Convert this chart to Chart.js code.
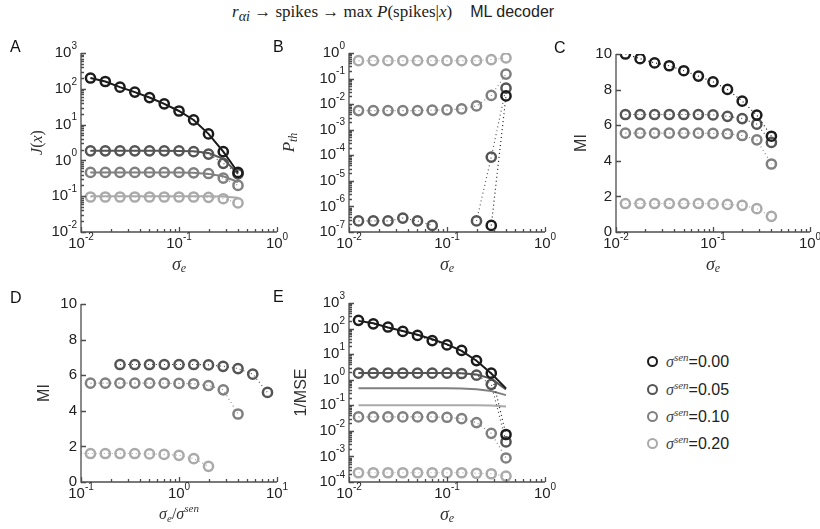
<!DOCTYPE html>
<html>
<head>
<meta charset="utf-8">
<script src="https://cdn.jsdelivr.net/npm/chart.js@4.4.1/dist/chart.umd.min.js"></script>
<style>
  body { margin: 0; background: #fff; width: 820px; height: 529px; position: relative; overflow: hidden;
         font-family: "Liberation Sans", Arial, sans-serif; color: #222; }
  canvas { position: absolute; }
  #title { position: absolute; top: 2px; left: 232px; white-space: nowrap; }
  #title .m { font-family: "Liberation Serif", serif; font-size: 17px; }
  #title .s { font-size: 16px; margin-left: 18px; }
  .leg { position: absolute; left: 647px; height: 20px; line-height: 20px; white-space: nowrap; font-size: 16px; }
  .leg .dot { display: inline-block; width: 7px; height: 7px; border-radius: 50%; border: 2.4px solid; vertical-align: middle; margin-right: 8px; margin-top: -3px; }
  .leg i { font-family: "Liberation Serif", serif; font-size: 16px; color: #444; }
  .leg sup { font-family: "Liberation Serif", serif; font-style: italic; font-size: 11px; color: #444; }
</style>
</head>
<body>
<div id="title"><span class="m"><i>r</i><sub><i>αi</i></sub> → spikes → max <i>P</i>(spikes|<i>x</i>)</span><span class="s">ML decoder</span></div>
<div id="legend"></div>

<script>
// ==================== DATA ====================
const sigmaE = [0.0125, 0.0177, 0.025, 0.0354, 0.05, 0.0707, 0.1, 0.141, 0.2, 0.283, 0.4];
const sigmaSen = [0, 0.05, 0.10, 0.20];
const senLabels = ['0.00', '0.05', '0.10', '0.20'];
const colors = ['#1c1c1c', '#555555', '#808080', '#aaaaaa'];

// A: J(x), markers
const jBlack = [200, 160, 111, 81, 57, 38, 24, 13.5, 5.5, 1.75, 0.46];
const jDark  = [1.85, 1.85, 1.85, 1.85, 1.85, 1.85, 1.85, 1.75, 1.5, 0.83, 0.42];
const jGray  = [0.46, 0.46, 0.46, 0.46, 0.46, 0.46, 0.46, 0.45, 0.43, 0.32, 0.2];
const jLight = [0.095, 0.095, 0.095, 0.095, 0.095, 0.095, 0.095, 0.095, 0.093, 0.085, 0.065];

// theory curves (solid lines in A and E)
const thBlack = [200, 160, 111, 81, 57, 38, 24, 13.5, 5.5, 1.75, 0.46];
const thDark  = [1.85, 1.85, 1.85, 1.85, 1.85, 1.85, 1.84, 1.8, 1.6, 1.1, 0.42];
const thGray  = [0.46, 0.46, 0.46, 0.46, 0.46, 0.46, 0.46, 0.45, 0.42, 0.36, 0.25];
const thLight = [0.1, 0.1, 0.1, 0.1, 0.1, 0.1, 0.1, 0.1, 0.1, 0.098, 0.09];

// B: P_th
const pBlack = [null, null, null, null, null, null, null, null, null, 1.8e-7, 0.021];
const pDark  = [2.7e-7, 2.7e-7, 2.7e-7, 3.5e-7, 2.7e-7, 1.8e-7, null, null, 2.7e-7, 8.5e-5, 0.042];
const pGray  = [0.0056, 0.0056, 0.0056, 0.0056, 0.0056, 0.0058, 0.006, 0.0065, 0.0085, 0.022, 0.15];
const pLight = [0.5, 0.5, 0.5, 0.5, 0.5, 0.5, 0.5, 0.5, 0.5, 0.55, 0.64];

// C / D: MI
const mBlack = [10.0, 9.74, 9.5, 9.34, 9.06, 8.76, 8.44, 8.01, 7.35, 6.57, 5.38];
const mDark  = [6.6, 6.6, 6.6, 6.6, 6.6, 6.6, 6.58, 6.5, 6.37, 6.06, 5.03];
const mGray  = [5.55, 5.55, 5.55, 5.55, 5.55, 5.55, 5.54, 5.52, 5.42, 5.18, 3.82];
const mLight = [1.6, 1.6, 1.6, 1.6, 1.6, 1.6, 1.58, 1.55, 1.5, 1.31, 0.88];

// E: 1/MSE
const eBlack = [210, 154, 115, 77, 54, 34, 23, 14, 5.6, 1.8, 0.0072];
const eDark  = [1.8, 1.8, 1.8, 1.8, 1.8, 1.8, 1.8, 1.75, 1.5, 0.66, 0.0037];
const eGray  = [0.035, 0.035, 0.035, 0.035, 0.035, 0.035, 0.034, 0.03, 0.021, 0.008, 0.00087];
const eLight = [2.3e-4, 2.3e-4, 2.3e-4, 2.3e-4, 2.3e-4, 2.3e-4, 2.3e-4, 2.3e-4, 2.2e-4, 2.1e-4, 1.7e-4];

// ==================== STYLE ====================
const AXIS = '#4d4d4d';
const TXT = '#222';
const SANS = '"Liberation Sans", Arial, sans-serif';
const SERIF = '"Liberation Serif", "Times New Roman", serif';
const Y_W = 80, X_H = 45, PAD_T = 15, PAD_R = 25;

// ==================== DATASET HELPERS ====================
function markerSet(xs, ys, color) {
    return {
        data: xs.map((x, i) => ({ x, y: ys[i] })),
        borderColor: color, borderWidth: 1.2, borderDash: [1, 3],
        pointRadius: 4.6, pointBorderWidth: 2.5, pointBorderColor: color,
        pointBackgroundColor: 'rgba(0,0,0,0)', tension: 0, order: 0
    };
}
function theorySet(xs, ys, color) {
    return {
        data: xs.map((x, i) => ({ x, y: ys[i] })),
        borderColor: color, borderWidth: 2, pointRadius: 0, tension: 0, order: 1
    };
}
const ratioX = k => sigmaE.map(s => s / sigmaSen[k]);

// ==================== TEXT HELPERS ====================
function richWidth(ctx, parts) {
    return parts.reduce((w, p) => { ctx.font = p.font; return w + ctx.measureText(p.t).width; }, 0);
}
function drawRich(ctx, parts, x, y) {
    // x is centre
    let cx = x - richWidth(ctx, parts) / 2;
    parts.forEach(p => {
        ctx.font = p.font;
        ctx.fillText(p.t, cx, y + (p.dy || 0));
        cx += ctx.measureText(p.t).width;
    });
}
function drawPow(ctx, e, x, y, align) {
    const base = '15px ' + SANS, small = '10px ' + SANS;
    ctx.font = base; const wb = ctx.measureText('10').width;
    ctx.font = small; const we = ctx.measureText(String(e)).width;
    const left = align === 'right' ? x - wb - we : x - (wb + we) / 2;
    ctx.font = base; ctx.fillText('10', left, y);
    ctx.font = small; ctx.fillText(String(e), left + wb, y - 7);
}
function tickList(scale, linTicks) {
    if (scale.type !== 'logarithmic') return linTicks.map(v => ({ v, major: true }));
    const out = [];
    for (let e = Math.floor(Math.log10(scale.min)); e <= Math.ceil(Math.log10(scale.max)); e++) {
        for (let m = 1; m <= 9; m++) {
            const v = m * Math.pow(10, e);
            if (v >= scale.min * 0.999 && v <= scale.max * 1.001) out.push({ v, major: m === 1, e });
        }
    }
    return out;
}

// ==================== AXES PLUGIN ====================
const matlabAxes = {
    id: 'matlabAxes',
    afterDraw(chart) {
        const o = chart.options.plugins.matlabAxes;
        const { ctx, chartArea: a } = chart;
        const xs = chart.scales.x, ys = chart.scales.y;
        ctx.save();
        ctx.strokeStyle = AXIS; ctx.lineWidth = 1.3;
        ctx.beginPath();
        ctx.moveTo(a.left, a.top); ctx.lineTo(a.left, a.bottom); ctx.lineTo(a.right, a.bottom);
        const xt = tickList(xs, []), yt = tickList(ys, o.yLin || []);
        xt.forEach(t => {
            const px = Math.round(xs.getPixelForValue(t.v)) + 0.5;
            ctx.moveTo(px, a.bottom); ctx.lineTo(px, a.bottom - (t.major ? 5 : 3));
        });
        yt.forEach(t => {
            const py = Math.round(ys.getPixelForValue(t.v)) + 0.5;
            ctx.moveTo(a.left, py); ctx.lineTo(a.left + (t.major ? 5 : 3), py);
        });
        ctx.stroke();

        ctx.fillStyle = TXT; ctx.textBaseline = 'middle'; ctx.textAlign = 'left';
        xt.filter(t => t.major).forEach(t => drawPow(ctx, t.e, xs.getPixelForValue(t.v), a.bottom + 12, 'center'));
        yt.filter(t => t.major).forEach(t => {
            const py = ys.getPixelForValue(t.v);
            if (ys.type === 'logarithmic') drawPow(ctx, t.e, a.left - 4, py, 'right');
            else { ctx.font = '15px ' + SANS; ctx.textAlign = 'right'; ctx.fillText(String(t.v), a.left - 4, py); ctx.textAlign = 'left'; }
        });

        // axis titles
        ctx.fillStyle = '#333';
        drawRich(ctx, o.xTitle, (a.left + a.right) / 2, a.bottom + 33);
        ctx.save();
        ctx.translate(a.left - o.yTitleDx, (a.top + a.bottom) / 2);
        ctx.rotate(-Math.PI / 2);
        drawRich(ctx, o.yTitle, 0, 0);
        ctx.restore();

        // panel letter
        ctx.fillStyle = '#111'; ctx.font = '16px ' + SANS;
        ctx.fillText(o.letter, a.left + o.letterDx, a.top - 5);
        ctx.restore();
    }
};

const it = (t, s, dy) => ({ t, font: 'italic ' + s + 'px ' + SERIF, dy });
const rm = (t, s, dy) => ({ t, font: s + 'px ' + SERIF, dy });
const sn = (t, s) => ({ t, font: s + 'px ' + SANS });
const sigmaTitle = [it('σ', 18), it('e', 12, 4)];

// ==================== PANELS ====================
const panels = [
    {
        letter: 'A', rect: [81, 53, 277, 232], letterDx: -71,
        x: { min: 0.01, max: 1 }, y: { type: 'logarithmic', min: 1e-2, max: 1e3 },
        xTitle: sigmaTitle, yTitle: [it('J', 16), rm('(', 16), it('x', 16), rm(')', 16)], yTitleDx: 43,
        datasets: [
            markerSet(sigmaE, jBlack, colors[0]), markerSet(sigmaE, jDark, colors[1]),
            markerSet(sigmaE, jGray, colors[2]), markerSet(sigmaE, jLight, colors[3]),
            theorySet(sigmaE, thBlack, colors[0]), theorySet(sigmaE, thDark, colors[1]),
            theorySet(sigmaE, thGray, colors[2]), theorySet(sigmaE, thLight, colors[3])
        ]
    },
    {
        letter: 'B', rect: [349, 53, 545, 232], letterDx: -76,
        x: { min: 0.01, max: 1 }, y: { type: 'logarithmic', min: 1e-7, max: 1 },
        xTitle: sigmaTitle, yTitle: [it('P', 17), it('th', 12, 4)], yTitleDx: 59,
        datasets: [
            markerSet(sigmaE, pBlack, colors[0]), markerSet(sigmaE, pDark, colors[1]),
            markerSet(sigmaE, pGray, colors[2]), markerSet(sigmaE, pLight, colors[3])
        ]
    },
    {
        letter: 'C', rect: [616, 54, 810, 232], letterDx: -62,
        x: { min: 0.01, max: 1 }, y: { type: 'linear', min: 0, max: 10 }, yLin: [0, 2, 4, 6, 8, 10],
        xTitle: sigmaTitle, yTitle: [sn('MI', 16)], yTitleDx: 34,
        datasets: [
            markerSet(sigmaE, mBlack, colors[0]), markerSet(sigmaE, mDark, colors[1]),
            markerSet(sigmaE, mGray, colors[2]), markerSet(sigmaE, mLight, colors[3])
        ]
    },
    {
        letter: 'D', rect: [81, 304, 277, 482], letterDx: -71,
        x: { min: 0.1, max: 10 }, y: { type: 'linear', min: 0, max: 10 }, yLin: [0, 2, 4, 6, 8, 10],
        xTitle: [it('σ', 16), it('e', 11, 4), rm('/', 16), it('σ', 16), it('sen', 11, -6)],
        yTitle: [sn('MI', 16)], yTitleDx: 36,
        datasets: [
            markerSet(ratioX(1), mDark, colors[1]), markerSet(ratioX(2), mGray, colors[2]),
            markerSet(ratioX(3), mLight, colors[3])
        ]
    },
    {
        letter: 'E', rect: [349, 303, 545, 482], letterDx: -76,
        x: { min: 0.01, max: 1 }, y: { type: 'logarithmic', min: 1e-4, max: 1e3 },
        xTitle: sigmaTitle, yTitle: [sn('1/MSE', 16)], yTitleDx: 47,
        datasets: [
            markerSet(sigmaE, eBlack, colors[0]), markerSet(sigmaE, eDark, colors[1]),
            markerSet(sigmaE, eGray, colors[2]), markerSet(sigmaE, eLight, colors[3]),
            theorySet(sigmaE, thBlack, colors[0]), theorySet(sigmaE, thDark, colors[1]),
            theorySet(sigmaE, thGray, colors[2]), theorySet(sigmaE, thLight, colors[3])
        ]
    }
];

panels.forEach(p => {
    const [l, t, r, b] = p.rect;
    const cv = document.createElement('canvas');
    cv.width = (r - l) + Y_W + PAD_R;
    cv.height = (b - t) + PAD_T + X_H;
    cv.style.left = (l - Y_W) + 'px';
    cv.style.top = (t - PAD_T) + 'px';
    document.body.appendChild(cv);
    new Chart(cv, {
        type: 'line',
        data: { datasets: p.datasets },
        options: {
            responsive: false, animation: false,
            layout: { padding: { left: 0, right: PAD_R, top: PAD_T, bottom: 0 } },
            plugins: {
                legend: { display: false }, tooltip: { enabled: false },
                matlabAxes: { letter: p.letter, letterDx: p.letterDx, xTitle: p.xTitle, yTitle: p.yTitle, yTitleDx: p.yTitleDx, yLin: p.yLin }
            },
            scales: {
                x: { type: 'logarithmic', min: p.x.min, max: p.x.max, ticks: { display: false },
                     grid: { display: false }, border: { display: false }, afterFit: s => { s.height = X_H; } },
                y: { type: p.y.type, min: p.y.min, max: p.y.max, ticks: { display: false },
                     grid: { display: false }, border: { display: false }, afterFit: s => { s.width = Y_W; } }
            }
        },
        plugins: [matlabAxes]
    });
});

// ==================== LEGEND ====================
const legendY = [357, 385, 412, 439];
const legend = document.getElementById('legend');
senLabels.forEach((lab, i) => {
    const d = document.createElement('div');
    d.className = 'leg';
    d.style.top = (legendY[i] - 10) + 'px';
    d.innerHTML = `<span class="dot" style="border-color:${colors[i]}"></span><i>σ</i><sup>sen</sup>=${lab}`;
    legend.appendChild(d);
});
</script>
</body>
</html>
